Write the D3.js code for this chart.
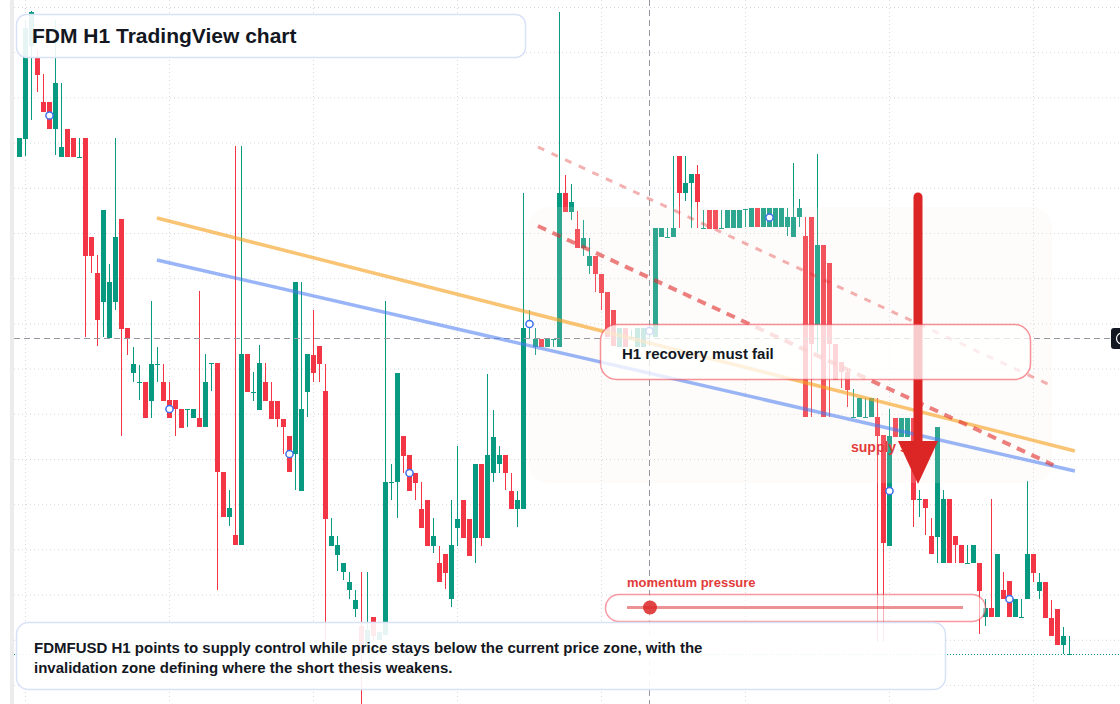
<!DOCTYPE html>
<html>
<head>
<meta charset="utf-8">
<script src="https://cdn.jsdelivr.net/npm/d3@7"></script>
<style>
  html, body { margin: 0; padding: 0; background: #fff; }
  svg { display: block; font-family: "Liberation Sans", Arial, sans-serif; }
</style>
</head>
<body>
<div id="chart"></div>
<script>
// FDMFUSD hourly candles
var opens = [0.9843,0.9861,0.9954,0.9942,0.9898,0.9898,0.9871,0.9843,0.9871,0.9862,
  0.9843,0.9862,0.9763,0.9727,0.9698,0.9662,0.9698,0.9781,0.9672,0.9627,
  0.9618,0.9618,0.9599,0.9636,0.9618,0.9600,0.9600,0.9591,0.9591,0.9582,
  0.9582,0.9573,0.9637,0.9637,0.9528,0.9483,0.9465,0.9455,0.9646,0.9608,
  0.9590,0.9618,0.9599,0.9599,0.9581,0.9564,0.9546,0.9509,0.9608,0.9645,
  0.9654,0.9609,0.9454,0.9445,0.9428,0.9410,0.9391,0.9374,0.9355,0.9383,
  0.9360,0.9365,0.9518,0.9518,0.9564,0.9545,0.9527,0.9491,0.9500,0.9454,
  0.9437,0.9446,0.9401,0.9472,0.9500,0.9481,0.9462,0.9536,0.9462,0.9527,
  0.9536,0.9545,0.9509,0.9491,0.9491,0.9673,0.9653,0.9661,0.9653,0.9661,
  0.9653,0.9807,0.9788,0.9771,0.9752,0.9734,0.9744,0.9726,0.9708,0.9690,
  0.9653,0.9672,0.9662,0.9653,0.9653,0.9665,0.9663,0.9763,0.9763,0.9763,
  0.9844,0.9807,0.9817,0.9826,0.9772,0.9790,0.9790,0.9772,0.9772,0.9772,
  0.9772,0.9791,0.9773,0.9792,0.9773,0.9773,0.9773,0.9773,0.9773,0.9763,
  0.9783,0.9764,0.9783,0.9675,0.9755,0.9737,0.9656,0.9638,0.9628,0.9583,
  0.9583,0.9583,0.9583,0.9583,0.9565,0.9454,0.9582,0.9563,0.9563,0.9582,
  0.9501,0.9501,0.9464,0.9463,0.9437,0.9501,0.9464,0.9455,0.9437,0.9437,
  0.9437,0.9383,0.9392,0.9383,0.9410,0.9419,0.9383,0.9383,0.9401,0.9446,
  0.9409,0.9418,0.9382,0.9391,0.9355,0.9346];

var closes = [0.9862,0.9972,0.9988,0.9925,0.9888,0.9871,0.9917,0.9853,0.9843,0.9843,
  0.9843,0.9744,0.9744,0.9680,0.9790,0.9718,0.9763,0.9671,0.9662,0.9636,
  0.9618,0.9582,0.9636,0.9636,0.9599,0.9582,0.9591,0.9572,0.9591,0.9591,
  0.9573,0.9618,0.9637,0.9528,0.9483,0.9492,0.9455,0.9646,0.9608,0.9608,
  0.9637,0.9599,0.9581,0.9581,0.9573,0.9528,0.9718,0.9591,0.9646,0.9627,
  0.9636,0.9481,0.9464,0.9455,0.9437,0.9418,0.9400,0.9355,0.9370,0.9364,
  0.9368,0.9518,0.9518,0.9627,0.9544,0.9509,0.9517,0.9472,0.9454,0.9464,
  0.9418,0.9427,0.9455,0.9481,0.9462,0.9444,0.9536,0.9462,0.9545,0.9563,
  0.9545,0.9527,0.9491,0.9500,0.9672,0.9679,0.9661,0.9653,0.9661,0.9661,
  0.9807,0.9788,0.9798,0.9752,0.9762,0.9744,0.9726,0.9707,0.9663,0.9654,
  0.9672,0.9653,0.9663,0.9672,0.9672,0.9673,0.9772,0.9772,0.9763,0.9772,
  0.9807,0.9817,0.9826,0.9798,0.9772,0.9771,0.9771,0.9772,0.9790,0.9790,
  0.9790,0.9791,0.9792,0.9773,0.9792,0.9792,0.9792,0.9792,0.9783,0.9783,
  0.9792,0.9583,0.9656,0.9755,0.9583,0.9656,0.9620,0.9628,0.9610,0.9583,
  0.9602,0.9583,0.9602,0.9564,0.9457,0.9564,0.9563,0.9582,0.9582,0.9500,
  0.9501,0.9492,0.9446,0.9573,0.9501,0.9437,0.9455,0.9437,0.9437,0.9455,
  0.9409,0.9392,0.9383,0.9446,0.9401,0.9383,0.9401,0.9383,0.9446,0.9427,
  0.9418,0.9382,0.9364,0.9355,0.9364,0.9346];

var highs = [0.9862,0.9980,0.9989,0.9950,0.9926,0.9898,0.9980,0.9917,0.9871,0.9862,
  0.9862,0.9862,0.9763,0.9745,0.9790,0.9736,0.9862,0.9781,0.9672,0.9653,
  0.9635,0.9618,0.9699,0.9653,0.9636,0.9618,0.9600,0.9591,0.9591,0.9591,
  0.9709,0.9646,0.9637,0.9637,0.9528,0.9510,0.9854,0.9854,0.9646,0.9628,
  0.9655,0.9637,0.9618,0.9599,0.9581,0.9564,0.9718,0.9718,0.9646,0.9690,
  0.9654,0.9636,0.9482,0.9464,0.9437,0.9428,0.9410,0.9428,0.9428,0.9383,
  0.9368,0.9699,0.9536,0.9627,0.9564,0.9545,0.9527,0.9518,0.9500,0.9482,
  0.9454,0.9446,0.9500,0.9554,0.9500,0.9481,0.9536,0.9536,0.9626,0.9590,
  0.9554,0.9545,0.9527,0.9509,0.9807,0.9690,0.9672,0.9661,0.9661,0.9661,
  0.9988,0.9825,0.9816,0.9789,0.9780,0.9762,0.9744,0.9726,0.9708,0.9690,
  0.9672,0.9672,0.9670,0.9672,0.9672,0.9674,0.9772,0.9772,0.9772,0.9844,
  0.9844,0.9844,0.9826,0.9835,0.9790,0.9790,0.9790,0.9790,0.9790,0.9790,
  0.9790,0.9791,0.9792,0.9792,0.9792,0.9792,0.9792,0.9792,0.9792,0.9837,
  0.9801,0.9783,0.9783,0.9846,0.9755,0.9737,0.9656,0.9638,0.9631,0.9611,
  0.9602,0.9602,0.9602,0.9602,0.9565,0.9591,0.9582,0.9582,0.9582,0.9582,
  0.9510,0.9501,0.9482,0.9573,0.9510,0.9501,0.9464,0.9455,0.9455,0.9455,
  0.9437,0.9401,0.9501,0.9446,0.9428,0.9419,0.9401,0.9401,0.9519,0.9446,
  0.9427,0.9418,0.9400,0.9391,0.9373,0.9364];

var lows = [0.9843,0.9844,0.9880,0.9908,0.9888,0.9871,0.9845,0.9843,0.9843,0.9843,
  0.9843,0.9663,0.9727,0.9654,0.9663,0.9662,0.9690,0.9564,0.9645,0.9618,
  0.9600,0.9582,0.9582,0.9618,0.9599,0.9582,0.9564,0.9572,0.9573,0.9582,
  0.9573,0.9573,0.9609,0.9410,0.9483,0.9474,0.9455,0.9455,0.9608,0.9599,
  0.9590,0.9599,0.9581,0.9573,0.9546,0.9528,0.9510,0.9509,0.9583,0.9618,
  0.9618,0.9360,0.9454,0.9429,0.9420,0.9401,0.9383,0.9290,0.9350,0.9360,
  0.9360,0.9365,0.9500,0.9482,0.9527,0.9509,0.9500,0.9472,0.9454,0.9447,
  0.9418,0.9411,0.9393,0.9454,0.9462,0.9444,0.9437,0.9454,0.9462,0.9518,
  0.9527,0.9510,0.9491,0.9473,0.9491,0.9662,0.9645,0.9653,0.9653,0.9653,
  0.9653,0.9788,0.9780,0.9752,0.9744,0.9726,0.9708,0.9690,0.9663,0.9654,
  0.9653,0.9653,0.9660,0.9653,0.9653,0.9662,0.9663,0.9763,0.9763,0.9763,
  0.9772,0.9799,0.9772,0.9772,0.9772,0.9771,0.9771,0.9772,0.9772,0.9772,
  0.9772,0.9773,0.9773,0.9773,0.9773,0.9773,0.9773,0.9773,0.9764,0.9763,
  0.9773,0.9583,0.9583,0.9647,0.9583,0.9583,0.9620,0.9612,0.9593,0.9583,
  0.9583,0.9583,0.9583,0.9358,0.9358,0.9454,0.9563,0.9563,0.9563,0.9473,
  0.9483,0.9465,0.9446,0.9437,0.9437,0.9437,0.9437,0.9437,0.9437,0.9437,
  0.9366,0.9374,0.9383,0.9383,0.9401,0.9383,0.9383,0.9383,0.9401,0.9418,
  0.9401,0.9382,0.9364,0.9355,0.9346,0.9345];

// hourly bars, first one at 23:00
var times = d3.utcHour.range(new Date(Date.UTC(2025, 2, 2, 23)), new Date(Date.UTC(2025, 2, 10, 7)));

// bars carrying a circle marker
var markerBars = [5, 25, 45, 65, 85, 105, 125, 145, 165];

// drawings, in [bar index, price]
var yellowLine = [[22.9, 0.9782], [175.9, 0.9549]];
var blueLine = [[22.9, 0.9740], [175.9, 0.9529]];
var faintDash = [[86.4, 0.9853], [172.1, 0.9614]];
var strongDash = [[86.4, 0.9774], [172.3, 0.9535]];
var zone = {x0: 84.75, x1: 172.1, top: 0.9793, bottom: 0.9517};
var arrow = {bar: 149.75, from: 0.9807, headTop: 0.9559, tip: 0.9516};
var crossBar = 105, crossPrice = 0.9662;

var W = 1120, H = 704;
var up = "#089981", down = "#f23645";

var svg = d3.select("#chart").append("svg")
    .attr("width", W)
    .attr("height", H);

var candles = times.map(function (t, i) {
  return {t: t, i: i, o: opens[i], h: highs[i], l: lows[i], c: closes[i]};
});

var x = d3.scaleBand()
  .domain(times)
  .range([16.5, 1072.5])
  .paddingInner(1 / 6)
  .paddingOuter(1 / 12);
var bw = x.bandwidth();
var xi = d3.scaleLinear()
  .domain([0, times.length - 1])
  .range([x(times[0]) + bw / 2, x(times[times.length - 1]) + bw / 2]);

var y = d3.scaleLinear()
  .domain([1.0, 0.9296])
  .range([0, H]);

// left strip
svg.append("rect")
  .attr("x", 10).attr("y", 0).attr("width", 4).attr("height", H)
  .attr("fill", "#ececec");

// grid
var gridPrices = d3.range(16).map(function (k) { return 0.9993 - k * 0.00452; });
svg.append("g")
  .attr("transform", "translate(14,0)")
  .call(d3.axisRight(y).tickValues(gridPrices).tickSize(W - 14).tickFormat(""))
  .call(function (g) { g.select(".domain").remove(); })
  .selectAll("line")
    .attr("stroke", "#d5d8de")
    .attr("stroke-dasharray", "1,3");

var dayTimes = times.filter(function (t) { return t.getUTCHours() === 0; });
svg.append("g")
  .call(d3.axisBottom(x).tickValues(dayTimes).tickSize(H).tickFormat(""))
  .call(function (g) { g.select(".domain").remove(); })
  .selectAll("line")
    .attr("stroke", "#d5d8de")
    .attr("stroke-dasharray", "1,3");

// candles
var gc = svg.append("g");
gc.selectAll(".wick")
  .data(candles)
  .enter()
  .append("line")
    .attr("x1", function (d) { return x(d.t) + bw / 2; })
    .attr("x2", function (d) { return x(d.t) + bw / 2; })
    .attr("y1", function (d) { return y(d.h); })
    .attr("y2", function (d) { return y(d.l); })
    .attr("stroke", function (d) { return d.c >= d.o ? up : down; })
    .attr("stroke-width", 1);

gc.selectAll(".body")
  .data(candles)
  .enter()
  .append("rect")
    .attr("x", function (d) { return x(d.t); })
    .attr("y", function (d) { return y(Math.max(d.o, d.c)); })
    .attr("width", bw)
    .attr("height", function (d) { return Math.max(1, Math.abs(y(d.o) - y(d.c))); })
    .attr("fill", function (d) { return d.c >= d.o ? up : down; })
    .attr("shape-rendering", "crispEdges");

// current price line
var last = candles[candles.length - 1];
svg.append("line")
  .attr("x1", 14).attr("x2", W)
  .attr("y1", Math.round(y(last.c)) + 0.5).attr("y2", Math.round(y(last.c)) + 0.5)
  .attr("stroke", up)
  .attr("stroke-dasharray", "1,2");

// zone
svg.append("rect")
  .attr("x", xi(zone.x0)).attr("y", y(zone.top))
  .attr("width", xi(zone.x1) - xi(zone.x0))
  .attr("height", y(zone.bottom) - y(zone.top))
  .attr("rx", 20)
  .attr("fill", "rgba(248, 236, 224, 0.16)");

// crosshair
svg.append("line")
  .attr("x1", xi(crossBar)).attr("x2", xi(crossBar))
  .attr("y1", 0).attr("y2", H)
  .attr("stroke", "#9598a1").attr("stroke-dasharray", "6,4");
svg.append("line")
  .attr("x1", 14).attr("x2", 1110)
  .attr("y1", Math.round(y(crossPrice)) + 0.5).attr("y2", Math.round(y(crossPrice)) + 0.5)
  .attr("stroke", "#9598a1").attr("stroke-dasharray", "6,4");

// trend lines
var seg = d3.line()
  .x(function (d) { return xi(d[0]); })
  .y(function (d) { return y(d[1]); });

svg.append("path").attr("d", seg(yellowLine))
  .attr("fill", "none").attr("stroke", "rgba(246, 160, 30, 0.62)").attr("stroke-width", 3.5);
svg.append("path").attr("d", seg(blueLine))
  .attr("fill", "none").attr("stroke", "rgba(70, 120, 240, 0.55)").attr("stroke-width", 3.5);
svg.append("path").attr("d", seg(faintDash))
  .attr("fill", "none").attr("stroke", "rgba(225, 50, 50, 0.38)").attr("stroke-width", 3)
  .attr("stroke-dasharray", "7,8");
svg.append("path").attr("d", seg(strongDash))
  .attr("fill", "none").attr("stroke", "rgba(225, 50, 50, 0.62)").attr("stroke-width", 4)
  .attr("stroke-dasharray", "9,7");

// markers
svg.selectAll(".marker")
  .data(markerBars.map(function (i) { return candles[i]; }))
  .enter()
  .append("circle")
    .attr("cx", function (d) { return x(d.t) + bw / 2; })
    .attr("cy", function (d) { return y((d.o + d.c) / 2); })
    .attr("r", 3.6)
    .attr("fill", "#fff")
    .attr("stroke", "#3d6ff0")
    .attr("stroke-width", 1.5);

// supply label + arrow
svg.append("text")
  .attr("x", 851).attr("y", 452)
  .attr("font-size", 14).attr("font-weight", "bold")
  .attr("fill", "#e23b3b")
  .text("supply side");

var ax = xi(arrow.bar);
svg.append("line")
  .attr("x1", ax).attr("x2", ax)
  .attr("y1", y(arrow.from) + 4).attr("y2", y(arrow.headTop) + 2)
  .attr("stroke", "#dc2626").attr("stroke-width", 9).attr("stroke-linecap", "round");
svg.append("path")
  .attr("d", "M" + (ax - 20) + "," + y(arrow.headTop) +
             "L" + (ax + 20) + "," + y(arrow.headTop) +
             "L" + ax + "," + y(arrow.tip) + "Z")
  .attr("fill", "#dc2626");

// "must fail" callout
svg.append("rect")
  .attr("x", 600.5).attr("y", 324.5).attr("width", 430).attr("height", 55).attr("rx", 16)
  .attr("fill", "rgba(255,255,255,0.76)")
  .attr("stroke", "rgba(242, 54, 69, 0.55)").attr("stroke-width", 1.5);
svg.append("text")
  .attr("x", 622).attr("y", 359)
  .attr("font-size", 15).attr("font-weight", "bold")
  .attr("fill", "#131722")
  .text("H1 recovery must fail");

// momentum gauge
svg.append("text")
  .attr("x", 627).attr("y", 587)
  .attr("font-size", 13).attr("font-weight", "bold")
  .attr("fill", "#e23b3b")
  .text("momentum pressure");
svg.append("rect")
  .attr("x", 605.5).attr("y", 594.5).attr("width", 380).attr("height", 27).attr("rx", 13.5)
  .attr("fill", "rgba(255,255,255,0.6)")
  .attr("stroke", "rgba(242, 54, 69, 0.5)").attr("stroke-width", 1.5);
svg.append("line")
  .attr("x1", 627).attr("x2", 963).attr("y1", 607.5).attr("y2", 607.5)
  .attr("stroke", "rgba(220, 38, 38, 0.5)").attr("stroke-width", 3);
svg.append("circle")
  .attr("cx", 650).attr("cy", 607.5).attr("r", 7)
  .attr("fill", "rgba(220, 38, 38, 0.85)");

// note box
svg.append("rect")
  .attr("x", 16.5).attr("y", 622.5).attr("width", 929).attr("height", 67).attr("rx", 12)
  .attr("fill", "rgba(255,255,255,0.9)")
  .attr("stroke", "#d8e2f6").attr("stroke-width", 1.5);
var note = svg.append("text")
  .attr("font-size", 15).attr("font-weight", "bold")
  .attr("fill", "#131722");
note.append("tspan").attr("x", 34).attr("y", 653)
  .text("FDMFUSD H1 points to supply control while price stays below the current price zone, with the");
note.append("tspan").attr("x", 34).attr("y", 673)
  .text("invalidation zone defining where the short thesis weakens.");

// title box
svg.append("rect")
  .attr("x", 16.5).attr("y", 14.5).attr("width", 509).attr("height", 43).attr("rx", 10)
  .attr("fill", "rgba(255,255,255,0.9)")
  .attr("stroke", "#d8e2f6").attr("stroke-width", 1.5);
svg.append("text")
  .attr("x", 32).attr("y", 43)
  .attr("font-size", 21).attr("font-weight", "bold")
  .attr("fill", "#131722")
  .text("FDM H1 TradingView chart");

// crosshair price tag, cut by the right edge
svg.append("rect")
  .attr("x", 1111).attr("y", 328).attr("width", 22).attr("height", 21).attr("rx", 3)
  .attr("fill", "#131722");
svg.append("circle")
  .attr("cx", 1122).attr("cy", 338.5).attr("r", 5.5)
  .attr("fill", "none").attr("stroke", "#fff").attr("stroke-width", 1.2);
</script>
</body>
</html>
